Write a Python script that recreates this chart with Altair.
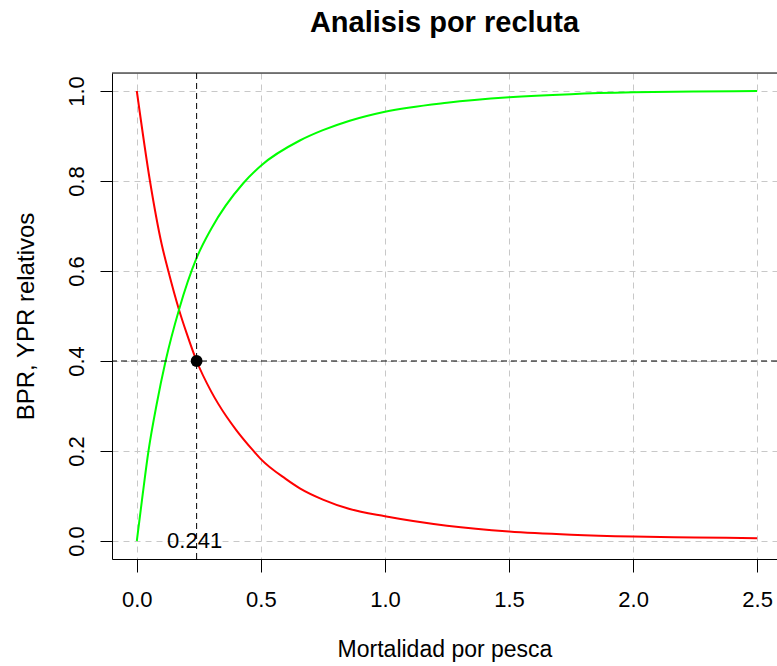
import altair as alt
import pandas as pd

# ---- data ----
F_BPR = [0.0, 0.053, 0.1, 0.127, 0.17, 0.2, 0.241, 0.3, 0.362, 0.4, 0.472, 0.5, 0.6, 0.657,
         0.75, 0.858, 1.0, 1.25, 1.5, 1.75, 2.0, 2.25, 2.5]
BPR = [1.0, 0.8, 0.66, 0.6, 0.514, 0.463, 0.4, 0.332, 0.276, 0.247, 0.199, 0.182, 0.138, 0.117,
       0.092, 0.071, 0.055, 0.034, 0.021, 0.014, 0.010, 0.008, 0.006]

F_YPR = [0.0, 0.024, 0.047, 0.08, 0.116, 0.17, 0.241, 0.3, 0.429, 0.5, 0.657, 0.75,
         0.858, 1.0, 1.25, 1.5, 1.75, 2.0, 2.25, 2.5]
YPR = [0.0, 0.105, 0.2, 0.304, 0.4, 0.514, 0.629, 0.694, 0.795, 0.834, 0.890, 0.913,
       0.934, 0.954, 0.974, 0.986, 0.993, 0.997, 0.999, 1.0]

SERIES = ["BPR", "YPR"]
COLORS = ["#FF0000", "#00FF00"]

F_OPT = 0.241
BPR_OPT = 0.4
F_LABEL = "0.241"

X_TICKS = [0.0, 0.5, 1.0, 1.5, 2.0, 2.5]
Y_TICKS = [0.0, 0.2, 0.4, 0.6, 0.8, 1.0]

TITLE = "Analisis por recluta"
X_TITLE = "Mortalidad por pesca"
Y_TITLE = "BPR, YPR relativos"

FONT = "Liberation Sans"

df = pd.concat([
    pd.DataFrame({"F": F_BPR, "v": BPR, "serie": SERIES[0]}),
    pd.DataFrame({"F": F_YPR, "v": YPR, "serie": SERIES[1]}),
], ignore_index=True)

W, H = 665, 486

xscale = alt.Scale(domain=[-0.1, 2.58], nice=False, zero=False)
yscale = alt.Scale(domain=[-0.04, 1.04], nice=False, zero=False)

xaxis = alt.Axis(
    values=X_TICKS, format=".1f", grid=True, gridColor="#C8C8C8", gridDash=[6, 5],
    gridWidth=1, domainColor="black", domainWidth=1, tickColor="black", tickSize=13,
    tickWidth=1, labelFont=FONT, labelFontSize=22, labelColor="black", labelPadding=17,
    title=X_TITLE, titleFont=FONT, titleFontSize=23, titleFontWeight="normal",
    titleColor="black", titleY=97, titleBaseline="alphabetic", titleAnchor="middle",
)
yaxis = alt.Axis(
    values=Y_TICKS, format=".1f", grid=True, gridColor="#C8C8C8", gridDash=[6, 5],
    gridWidth=1, domainColor="black", domainWidth=1, tickColor="black", tickSize=12,
    tickWidth=1, labelFont=FONT, labelFontSize=22, labelColor="black", labelAngle=270,
    labelAlign="center", labelBaseline="alphabetic", labelPadding=17,
    title=Y_TITLE, titleFont=FONT, titleFontSize=24, titleFontWeight="normal",
    titleColor="black", titleAngle=270, titleX=-79, titleY=H / 2,
    titleAlign="center", titleBaseline="alphabetic",
)

lines = alt.Chart(df).mark_line(strokeWidth=2, interpolate="monotone").encode(
    x=alt.X("F:Q", scale=xscale, axis=xaxis),
    y=alt.Y("v:Q", scale=yscale, axis=yaxis),
    color=alt.Color("serie:N", scale=alt.Scale(domain=SERIES, range=COLORS), legend=None),
    detail="serie:N",
)

vline = alt.Chart().mark_rule(color="black", strokeWidth=1, strokeDash=[6, 4]).encode(
    x=alt.datum(F_OPT, type="quantitative")
)
hline = alt.Chart().mark_rule(color="black", strokeWidth=1, strokeDash=[6, 4]).encode(
    y=alt.datum(BPR_OPT, type="quantitative")
)
dot = alt.Chart().mark_circle(color="black", opacity=1, size=140).encode(
    x=alt.datum(F_OPT, type="quantitative"),
    y=alt.datum(BPR_OPT, type="quantitative"),
)
label = alt.Chart().mark_text(
    font=FONT, fontSize=22, color="black", align="center", baseline="middle", dx=-2
).encode(
    x=alt.datum(F_OPT, type="quantitative"),
    y=alt.datum(0.0, type="quantitative"),
    text=alt.value(F_LABEL),
)
top_frame = alt.Chart().mark_rule(color="black", strokeWidth=1).encode(
    y=alt.value(0)
)
title_text = alt.Chart().mark_text(
    font=FONT, fontSize=29, fontWeight="bold", color="black",
    align="center", baseline="alphabetic",
).encode(
    x=alt.value(W / 2),
    y=alt.value(-41),
    text=alt.value(TITLE),
)

chart = alt.layer(lines, vline, hline, dot, label, top_frame, title_text).properties(
    width=W,
    height=H,
    autosize=alt.AutoSizeParams(type="none"),
    padding={"left": 112, "top": 73, "right": 0, "bottom": 107},
).configure_view(strokeWidth=0).configure(background="white")

chart.save("out.html", embed_options={"renderer": "svg", "actions": False})
